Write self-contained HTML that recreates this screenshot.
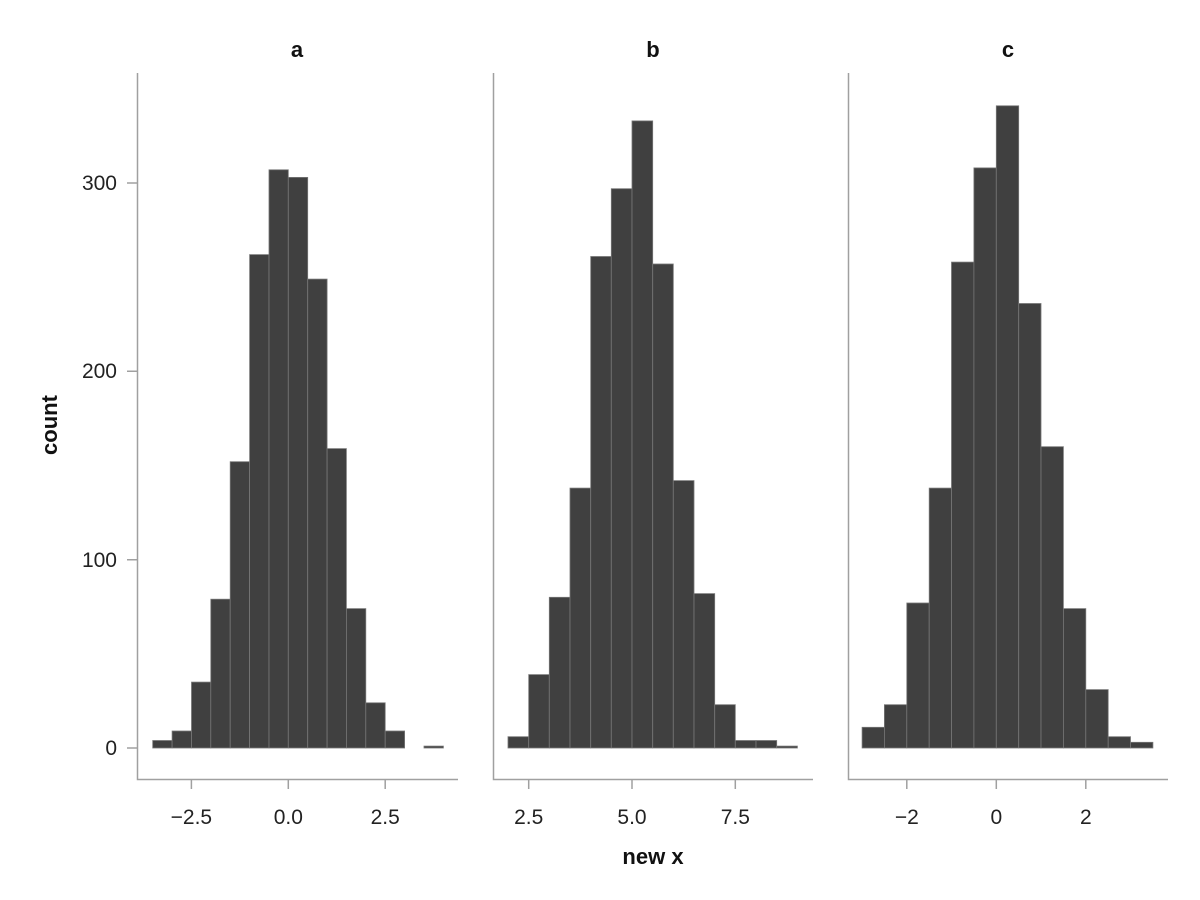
<!DOCTYPE html>
<html><head><meta charset="utf-8"><style>
html,body{margin:0;padding:0;background:#fff;}
svg{display:block;font-family:"Liberation Sans",sans-serif;}
.b{fill:#404040;stroke:#777;stroke-width:0.8;}
.ax{stroke:#a0a0a0;stroke-width:1.5;fill:none;}
.tl{font-size:21px;fill:#222;}
.tt{font-size:22px;font-weight:bold;fill:#111;}
</style></head><body>
<svg width="1200" height="900" viewBox="0 0 1200 900">
<g>
<rect class="b" x="152.7" y="740.5" width="19.4" height="7.5"/>
<rect class="b" x="172.1" y="731" width="19.4" height="17"/>
<rect class="b" x="191.5" y="682.1" width="19.3" height="65.9"/>
<rect class="b" x="210.8" y="599.2" width="19.4" height="148.8"/>
<rect class="b" x="230.2" y="461.7" width="19.4" height="286.3"/>
<rect class="b" x="249.6" y="254.6" width="19.4" height="493.4"/>
<rect class="b" x="269" y="169.8" width="19.3" height="578.2"/>
<rect class="b" x="288.3" y="177.4" width="19.4" height="570.6"/>
<rect class="b" x="307.7" y="279.1" width="19.4" height="468.9"/>
<rect class="b" x="327.1" y="448.6" width="19.3" height="299.4"/>
<rect class="b" x="346.4" y="608.6" width="19.4" height="139.4"/>
<rect class="b" x="365.8" y="702.8" width="19.4" height="45.2"/>
<rect class="b" x="385.2" y="731" width="19.4" height="17"/>
<rect class="b" x="424.0" y="746.1" width="19.4" height="1.9"/>
</g>
<g>
<rect class="b" x="508.0" y="736.7" width="20.7" height="11.3"/>
<rect class="b" x="528.7" y="674.6" width="20.6" height="73.4"/>
<rect class="b" x="549.3" y="597.3" width="20.7" height="150.7"/>
<rect class="b" x="570.0" y="488.1" width="20.7" height="259.9"/>
<rect class="b" x="590.7" y="256.5" width="20.6" height="491.5"/>
<rect class="b" x="611.3" y="188.7" width="20.7" height="559.3"/>
<rect class="b" x="632.0" y="120.9" width="20.7" height="627.1"/>
<rect class="b" x="652.7" y="264" width="20.6" height="484"/>
<rect class="b" x="673.3" y="480.6" width="20.7" height="267.4"/>
<rect class="b" x="694.0" y="593.6" width="20.7" height="154.4"/>
<rect class="b" x="714.7" y="704.7" width="20.6" height="43.3"/>
<rect class="b" x="735.3" y="740.5" width="20.7" height="7.5"/>
<rect class="b" x="756.0" y="740.5" width="20.7" height="7.5"/>
<rect class="b" x="776.7" y="746.1" width="20.7" height="1.9"/>
</g>
<g>
<rect class="b" x="862.1" y="727.3" width="22.3" height="20.7"/>
<rect class="b" x="884.4" y="704.7" width="22.4" height="43.3"/>
<rect class="b" x="906.8" y="603" width="22.4" height="145"/>
<rect class="b" x="929.2" y="488.1" width="22.3" height="259.9"/>
<rect class="b" x="951.5" y="262.1" width="22.4" height="485.9"/>
<rect class="b" x="973.9" y="167.9" width="22.4" height="580.1"/>
<rect class="b" x="996.3" y="105.8" width="22.4" height="642.2"/>
<rect class="b" x="1018.7" y="303.5" width="22.3" height="444.5"/>
<rect class="b" x="1041.0" y="446.7" width="22.4" height="301.3"/>
<rect class="b" x="1063.4" y="608.6" width="22.4" height="139.4"/>
<rect class="b" x="1085.8" y="689.6" width="22.4" height="58.4"/>
<rect class="b" x="1108.2" y="736.7" width="22.3" height="11.3"/>
<rect class="b" x="1130.5" y="742.3" width="22.4" height="5.7"/>
</g>
<path class="ax" d="M137.5 73 V779.5 H458"/>
<path class="ax" d="M493.5 73 V779.5 H813"/>
<path class="ax" d="M848.5 73 V779.5 H1168"/>
<path class="ax" d="M127 748 H137 M127 559.7 H137 M127 371.3 H137 M127 183 H137"/>
<g class="tl" text-anchor="end">
<text x="117" y="755">0</text>
<text x="117" y="567">100</text>
<text x="117" y="378">200</text>
<text x="117" y="190">300</text>
</g>
<path class="ax" d="M191.4 780 V789 M288.3 780 V789 M385.2 780 V789 M528.7 780 V789 M632 780 V789 M735.3 780 V789 M906.8 780 V789 M996.3 780 V789 M1085.8 780 V789"/>
<g class="tl" text-anchor="middle">
<text x="191.4" y="824">−2.5</text>
<text x="288.3" y="824">0.0</text>
<text x="385.2" y="824">2.5</text>
<text x="528.7" y="824">2.5</text>
<text x="632" y="824">5.0</text>
<text x="735.3" y="824">7.5</text>
<text x="906.8" y="824">−2</text>
<text x="996.3" y="824">0</text>
<text x="1085.8" y="824">2</text>
</g>
<g class="tt" text-anchor="middle">
<text x="297" y="57">a</text>
<text x="653" y="57">b</text>
<text x="1008" y="57">c</text>
<text x="653" y="864">new x</text>
<text transform="translate(57,425) rotate(-90)">count</text>
</g>
</svg>
</body></html>
